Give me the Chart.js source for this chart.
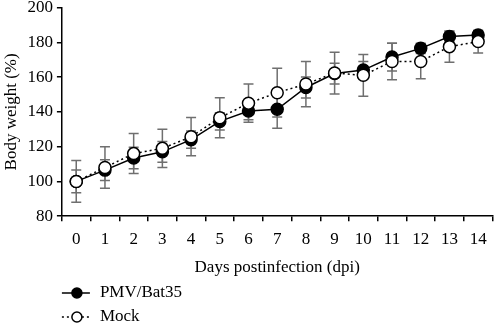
<!DOCTYPE html>
<html>
<head>
<meta charset="utf-8">
<script src="https://cdn.jsdelivr.net/npm/chart.js@4"></script>
<style>
  html, body { margin: 0; padding: 0; background: #fff; }
  #wrap { width: 500px; height: 323px; }
</style>
</head>
<body>
<div id="wrap"><canvas id="chart" width="500" height="323"></canvas></div>
<script>
// days postinfection
const days = ["0", "1", "2", "3", "4", "5", "6", "7", "8", "9", "10", "11", "12", "13", "14"];

// body weight (%) means
const pmvMean  = [100, 106.5, 113.5, 117, 124, 134.5, 140.5, 141.5, 154, 162, 164, 171.5, 176.5, 183.3, 184.2];
const mockMean = [100, 108, 116, 119, 125.7, 136.6, 145, 151, 156, 162.3, 161, 169, 169, 177.5, 180.4];

// error bar half-lengths
const pmvErr  = [6.5, 6, 6.2, 6, 5, 5, 5, 11, 6, 6, 5, 8, 3, 3, 2.5];
const mockErr = [12, 12, 11.5, 11, 11, 11.5, 11, 14, 13, 12, 12, 10.5, 10, 9, 6.5];

const yTicks = [80, 100, 120, 140, 160, 180, 200];

const SERIF = "'Liberation Serif', 'DejaVu Serif', serif";

// error bars drawn behind the points
const errorBars = {
  id: "errorBars",
  beforeDatasetsDraw(chart) {
    const ctx = chart.ctx;
    const x = chart.scales.x;
    const y = chart.scales.y;
    ctx.save();
    ctx.strokeStyle = "#6f6f6f";
    ctx.lineWidth = 1.5;
    chart.data.datasets.forEach((ds) => {
      ds.data.forEach((v, i) => {
        const px = x.getPixelForValue(i);
        const top = y.getPixelForValue(v + ds.err[i]);
        const bot = y.getPixelForValue(v - ds.err[i]);
        ctx.beginPath();
        ctx.moveTo(px, top); ctx.lineTo(px, bot);
        ctx.moveTo(px - 5, top); ctx.lineTo(px + 5, top);
        ctx.moveTo(px - 5, bot); ctx.lineTo(px + 5, bot);
        ctx.stroke();
      });
    });
    ctx.restore();
  }
};

// legend with line + marker symbols, stacked under the axis title
const sideLegend = {
  id: "sideLegend",
  afterDraw(chart) {
    const ctx = chart.ctx;
    const x0 = chart.chartArea.left;
    const rows = [chart.height - 30, chart.height - 6];
    ctx.save();
    chart.data.datasets.forEach((ds, k) => {
      const yy = rows[k];
      ctx.strokeStyle = "#000";
      ctx.lineWidth = 1.5;
      ctx.setLineDash(ds.borderDash || []);
      ctx.beginPath();
      ctx.moveTo(x0, yy); ctx.lineTo(x0 + 28, yy);
      ctx.stroke();
      ctx.setLineDash([]);
      ctx.beginPath();
      ctx.arc(x0 + 15, yy, 5, 0, Math.PI * 2);
      ctx.fillStyle = ds.pointBackgroundColor;
      ctx.fill();
      ctx.stroke();
      ctx.fillStyle = "#000";
      ctx.font = "17px " + SERIF;
      ctx.textBaseline = "middle";
      ctx.fillText(ds.label, x0 + 38, yy);
    });
    ctx.restore();
  }
};

new Chart(document.getElementById("chart"), {
  type: "line",
  data: {
    labels: days,
    datasets: [
      {
        label: "PMV/Bat35",
        data: pmvMean,
        err: pmvErr,
        borderColor: "#000",
        borderWidth: 1.5,
        pointRadius: 6,
        pointBorderWidth: 1.5,
        pointBackgroundColor: "#000",
        pointBorderColor: "#000",
        tension: 0,
        order: 2
      },
      {
        label: "Mock",
        data: mockMean,
        err: mockErr,
        borderColor: "#000",
        borderWidth: 1.5,
        borderDash: [2, 3],
        pointRadius: 6,
        pointBorderWidth: 1.5,
        pointBackgroundColor: "#fff",
        pointBorderColor: "#000",
        tension: 0,
        order: 1
      }
    ]
  },
  options: {
    responsive: false,
    devicePixelRatio: 1,
    animation: false,
    layout: { padding: { top: 3, right: 1, bottom: 45, left: 1 } },
    plugins: {
      legend: { display: false },
      tooltip: { enabled: false }
    },
    scales: {
      x: {
        type: "category",
        offset: true,
        grid: { offset: true, drawOnChartArea: false, drawTicks: true, tickLength: 5, color: "#000", lineWidth: 1.5 },
        border: { display: true, color: "#000", width: 1.5 },
        ticks: { color: "#000", font: { family: SERIF, size: 17 }, padding: 8, maxRotation: 0, autoSkip: false },
        title: { display: true, text: "Days postinfection (dpi)", color: "#000", font: { family: SERIF, size: 17 }, padding: { top: 0, bottom: 0 } }
      },
      y: {
        min: 80,
        max: 200,
        afterBuildTicks(axis) { axis.ticks = yTicks.map((v) => ({ value: v })); },
        afterFit(axis) { axis.paddingTop = 0; axis.paddingBottom = 0; },
        grid: { drawOnChartArea: false, drawTicks: true, tickLength: 5, color: "#000", lineWidth: 1.5 },
        border: { display: true, color: "#000", width: 1.5 },
        ticks: { color: "#000", font: { family: SERIF, size: 17 }, padding: 4 },
        title: { display: true, text: "Body weight (%)", color: "#000", font: { family: SERIF, size: 17 }, padding: { top: 0, bottom: 2 } }
      }
    }
  },
  plugins: [errorBars, sideLegend]
});
</script>
</body>
</html>
